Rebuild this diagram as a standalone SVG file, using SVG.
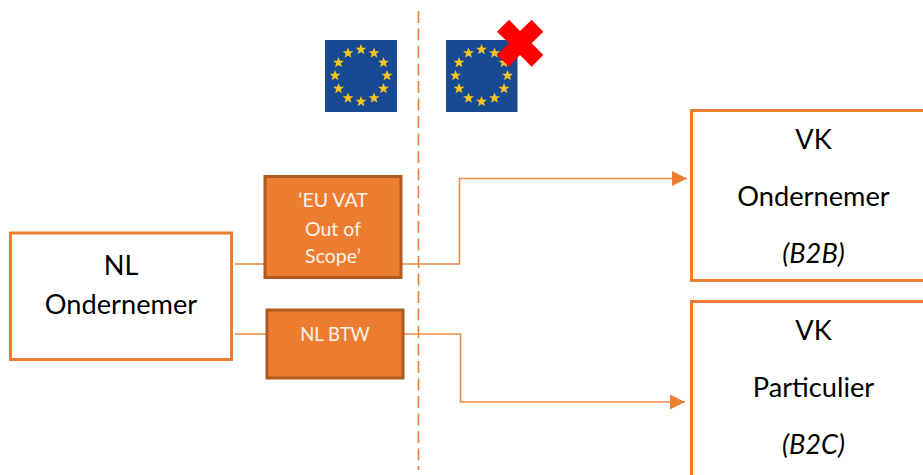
<svg xmlns="http://www.w3.org/2000/svg" xmlns:xlink="http://www.w3.org/1999/xlink" width="923" height="475" viewBox="0 0 923 475">
<style>
text{font-family:"Lato","Open Sans","Liberation Sans",sans-serif;text-anchor:middle}
.big{font-size:27.200px;fill:#000}
.small{font-size:19.500px;fill:#fdf3ea}
.box{fill:#fff;stroke:#ed7d31;stroke-width:3}
.fill{fill:#ed7d31;stroke:#ae5a21;stroke-width:3}
.con{fill:none;stroke:#f08a45;stroke-width:1.600}
.flag{fill:#174a92}
.star{fill:#f6c521}
</style>
<defs>
<marker id="arrow" markerUnits="userSpaceOnUse" markerWidth="16" markerHeight="16" refX="15" refY="8" orient="auto"><path d="M0 0.500L15 8L0 15.500Z" fill="#ed7d31"/></marker>
<path id="s" class="star" d="M0-5.600L1.500-1.700L5.500-1.700L2.300 .7L3.400 4.700L0 2.400L-3.400 4.700L-2.300 .7L-5.500-1.700L-1.500-1.700Z"/>
<g id="stars">
<use xlink:href="#s" x="0" y="-26"/><use xlink:href="#s" x="13" y="-22.500"/><use xlink:href="#s" x="22.500" y="-13"/><use xlink:href="#s" x="26" y="0"/><use xlink:href="#s" x="22.500" y="13"/><use xlink:href="#s" x="13" y="22.500"/><use xlink:href="#s" x="0" y="26"/><use xlink:href="#s" x="-13" y="22.500"/><use xlink:href="#s" x="-22.500" y="13"/><use xlink:href="#s" x="-26" y="0"/><use xlink:href="#s" x="-22.500" y="-13"/><use xlink:href="#s" x="-13" y="-22.500"/>
</g>
</defs>
<rect width="923" height="475" fill="#fff"/>
<g id="connectors">
<path d="M418.500 11V470" fill="none" stroke="#ed7d31" stroke-width="1.600" stroke-dasharray="12 5.500"/>
<path class="con" d="M235 264H265"/>
<path class="con" d="M235 334H267"/>
<path class="con" d="M402 264H459.500V178.500H687" marker-end="url(#arrow)"/>
<path class="con" d="M404 334H460.500V402H685" marker-end="url(#arrow)"/>
</g>
<g id="flag-eu"><rect class="flag" x="325" y="40" width="72" height="72"/><use xlink:href="#stars" x="361" y="75.500"/></g>
<g id="flag-eu-crossed"><rect class="flag" x="446" y="40" width="71.500" height="72"/><use xlink:href="#stars" x="481.500" y="75.500"/></g>
<g id="cross"><polygon fill="#ff0000" points="497,31.700 509,19.700 520,31 531.700,19.700 543.300,31.700 531.700,43.300 543.300,55 531.700,66.700 520,55 509,66.700 497,55 509,43.300"/></g>
<g id="node-nl"><rect class="box" x="10.500" y="233" width="221" height="126.500"/><text class="big" x="121" y="275">NL</text><text class="big" x="121" y="314">Ondernemer</text></g>
<g id="node-vat"><rect class="fill" x="265" y="176.500" width="136" height="101"/><text class="small" x="333" y="207">‘EU VAT</text><text class="small" x="333" y="236">Out of</text><text class="small" x="333" y="263">Scope’</text></g>
<g id="node-btw"><rect class="fill" x="267" y="310" width="136" height="68"/><text class="small" x="335" y="341" style="font-size:18.500px">NL BTW</text></g>
<g id="node-vk-b2b"><path class="box" d="M925 110.500H691.500V280.500H925"/><text class="big" x="813.500" y="149">VK</text><text class="big" x="813.500" y="206">Ondernemer</text><text class="big" x="813.500" y="263" font-style="italic">(B2B)</text></g>
<g id="node-vk-b2c"><path class="box" d="M925 301.500H691.500V477"/><text class="big" x="813.500" y="340">VK</text><text class="big" x="813.500" y="397">Particulier</text><text class="big" x="813.500" y="454" font-style="italic">(B2C)</text></g>
</svg>
